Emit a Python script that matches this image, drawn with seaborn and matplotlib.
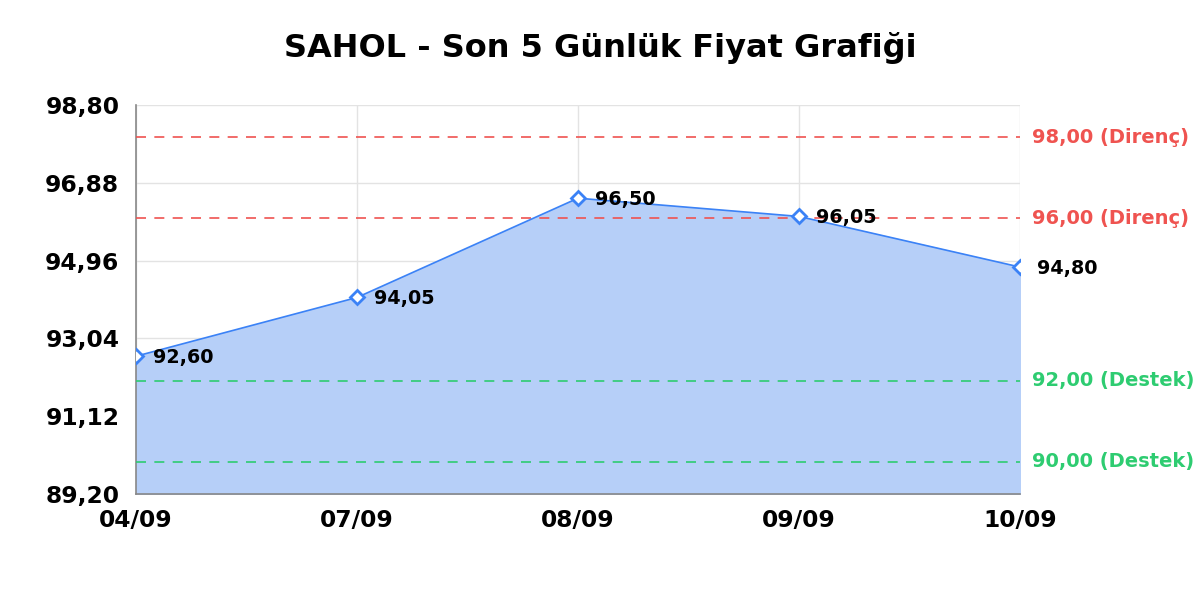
import matplotlib
matplotlib.use("Agg")
import matplotlib.pyplot as plt
import seaborn as sns
import pandas as pd
from matplotlib.ticker import FixedLocator, FuncFormatter

tarihler = ["04/09", "07/09", "08/09", "09/09", "10/09"]
fiyatlar = [92.60, 94.05, 96.50, 96.05, 94.80]
direnc = [98.00, 96.00]
destek = [92.00, 90.00]
y_ticks = [89.20, 91.12, 93.04, 94.96, 96.88, 98.80]

df = pd.DataFrame({"x": range(len(tarihler)), "fiyat": fiyatlar})

sns.set_style("whitegrid")
plt.rcParams["font.family"] = ["DejaVu Sans"]
plt.rcParams["text.color"] = "black"


def virgul(v):
    return f"{v:.2f}".replace(".", ",")


fig = plt.figure(figsize=(12, 6), dpi=100)
ax = fig.add_axes([0.1133, 0.1767, 0.7367, 0.6483])

ax.fill_between(df["x"], df["fiyat"], 89.20, color="#b6cff8", zorder=1)
sns.lineplot(data=df, x="x", y="fiyat", ax=ax, color="#3b82f6", linewidth=1.2,
             marker="D", markersize=7.5, markerfacecolor="white",
             markeredgecolor="#3b82f6", markeredgewidth=2, zorder=4)

for v in direnc:
    ax.axhline(v, color="#ef5350", linestyle=(0, (6, 5)), linewidth=1.2, zorder=3)
    ax.text(1.014, v, virgul(v) + " (Direnç)", transform=ax.get_yaxis_transform(),
            color="#ef5350", fontsize=14, fontweight="bold", va="center", ha="left")
for v in destek:
    ax.axhline(v, color="#2ecc71", linestyle=(0, (6, 5)), linewidth=1.2, zorder=3)
    ax.text(1.014, v, virgul(v) + " (Destek)", transform=ax.get_yaxis_transform(),
            color="#2ecc71", fontsize=14, fontweight="bold", va="center", ha="left")

for i, v in enumerate(fiyatlar):
    ax.annotate(virgul(v), (i, v), xytext=(12, -1), textcoords="offset points",
                fontsize=13.8, fontweight="bold", va="center", ha="left",
                color="black", zorder=5)

ax.set_xlim(0, len(tarihler) - 1)
ax.set_ylim(89.20, 98.80)
ax.xaxis.set_major_locator(FixedLocator(list(range(len(tarihler)))))
ax.set_xticklabels(tarihler)
ax.yaxis.set_major_locator(FixedLocator(y_ticks))
ax.yaxis.set_major_formatter(FuncFormatter(lambda y, p: virgul(y)))
for lab in ax.get_xticklabels() + ax.get_yticklabels():
    lab.set_fontweight("bold")
    lab.set_fontsize(16.8)
    lab.set_color("black")
ax.tick_params(axis="y", length=0, pad=12)
ax.tick_params(axis="x", length=0, pad=11)
ax.grid(True, color="#e3e3e3", linewidth=1)
ax.set_xlabel("")
ax.set_ylabel("")
for s in ["top", "right"]:
    ax.spines[s].set_visible(False)
for s in ["left", "bottom"]:
    ax.spines[s].set_color("#888888")
    ax.spines[s].set_linewidth(1.2)

fig.suptitle("SAHOL - Son 5 Günlük Fiyat Grafiği", fontsize=23, fontweight="bold",
             y=0.92, va="center", color="black")

fig.savefig("out.png", dpi=100)
